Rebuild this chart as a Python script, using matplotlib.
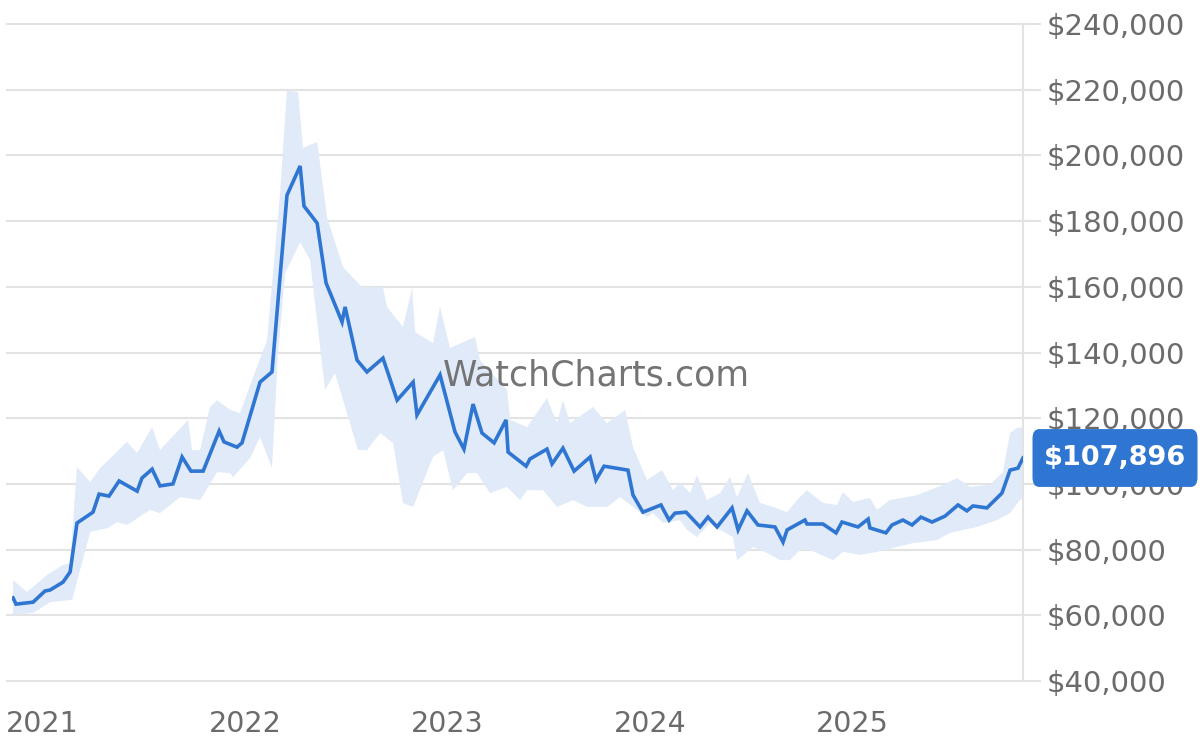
import numpy as np
from matplotlib import pyplot as plt
from matplotlib import transforms

# median price (decimal year, USD thousands)
years = [2020.854, 2020.869, 2020.953, 2021.012, 2021.037, 2021.101, 2021.136, 2021.170, 2021.249, 2021.279,
         2021.328, 2021.378, 2021.467, 2021.491, 2021.541, 2021.580, 2021.644, 2021.689, 2021.733, 2021.793,
         2021.872, 2021.896, 2021.960, 2021.985, 2022.074, 2022.133, 2022.207, 2022.272, 2022.291, 2022.356,
         2022.400, 2022.479, 2022.494, 2022.553, 2022.602, 2022.681, 2022.751, 2022.830, 2022.849, 2022.963,
         2023.037, 2023.081, 2023.126, 2023.170, 2023.230, 2023.289, 2023.299, 2023.388, 2023.407, 2023.491,
         2023.516, 2023.570, 2023.625, 2023.704, 2023.733, 2023.773, 2023.891, 2023.916, 2023.965, 2024.054,
         2024.094, 2024.123, 2024.178, 2024.247, 2024.286, 2024.331, 2024.405, 2024.435, 2024.479, 2024.533,
         2024.617, 2024.657, 2024.677, 2024.765, 2024.775, 2024.854, 2024.919, 2024.948, 2025.027, 2025.077,
         2025.086, 2025.165, 2025.195, 2025.249, 2025.294, 2025.338, 2025.393, 2025.457, 2025.521, 2025.565,
         2025.595, 2025.664, 2025.738, 2025.778, 2025.817, 2025.842]
price = [65.3, 63.4, 64.0, 67.4, 67.7, 70.1, 73.2, 88.1, 91.4, 96.9,
         96.3, 100.9, 97.8, 101.8, 104.5, 99.4, 100.0, 108.2, 103.9, 103.9,
         116.1, 112.8, 111.2, 112.5, 131.0, 134.1, 187.9, 196.8, 184.6, 179.4,
         161.2, 149.3, 153.9, 137.7, 134.1, 138.3, 125.5, 131.0, 121.0, 133.2,
         115.8, 110.6, 124.3, 115.5, 112.5, 119.5, 109.7, 105.4, 107.6, 110.6,
         106.1, 110.9, 103.9, 108.2, 101.2, 105.4, 104.2, 96.6, 91.4, 93.6,
         89.0, 91.1, 91.4, 86.9, 89.9, 86.9, 92.7, 86.0, 91.8, 87.5,
         86.9, 82.3, 86.0, 89.0, 87.8, 87.8, 85.1, 88.4, 86.9, 89.3,
         86.6, 85.1, 87.5, 89.0, 87.5, 89.9, 88.4, 90.2, 93.6, 91.8,
         93.3, 92.7, 97.2, 104.2, 104.8, 107.896]

# price range band
upper_years = [2020.854, 2020.923, 2021.022, 2021.101, 2021.136, 2021.170, 2021.235, 2021.284, 2021.417, 2021.467,
               2021.541, 2021.580, 2021.719, 2021.738, 2021.778, 2021.827, 2021.862, 2021.926, 2021.975, 2022.059,
               2022.109, 2022.173, 2022.207, 2022.262, 2022.286, 2022.356, 2022.405, 2022.484, 2022.578, 2022.681,
               2022.701, 2022.780, 2022.825, 2022.840, 2022.928, 2022.963, 2023.012, 2023.136, 2023.160, 2023.294,
               2023.309, 2023.393, 2023.491, 2023.541, 2023.570, 2023.605, 2023.719, 2023.788, 2023.877, 2023.916,
               2023.985, 2024.059, 2024.114, 2024.148, 2024.198, 2024.232, 2024.281, 2024.346, 2024.395, 2024.430,
               2024.484, 2024.543, 2024.607, 2024.677, 2024.726, 2024.775, 2024.854, 2024.923, 2024.953, 2025.002,
               2025.086, 2025.121, 2025.185, 2025.269, 2025.319, 2025.447, 2025.516, 2025.580, 2025.679, 2025.743,
               2025.778, 2025.812, 2025.842]
upper_price = [70.7, 67.1, 72.3, 75.3, 75.9, 105.1, 100.6, 104.8, 112.8, 109.4,
               117.3, 110.3, 119.5, 110.3, 110.3, 123.4, 125.5, 122.5, 121.6, 135.6,
               143.8, 188.6, 219.9, 219.3, 202.3, 204.1, 181.2, 166.0, 159.9, 159.9,
               153.9, 147.8, 159.6, 146.2, 142.9, 153.9, 141.4, 144.7, 137.7, 128.6,
               119.5, 117.3, 126.1, 118.5, 125.5, 118.5, 123.4, 118.5, 122.5, 111.2,
               101.2, 104.2, 98.1, 100.3, 97.2, 102.7, 95.1, 97.2, 102.1, 96.0,
               103.3, 94.2, 93.0, 91.4, 95.1, 98.1, 94.2, 93.6, 97.5, 94.5,
               95.7, 92.1, 95.1, 96.0, 96.6, 99.7, 101.8, 99.1, 99.7, 103.6,
               115.5, 117.0, 117.3]
lower_years = [2020.854, 2020.953, 2021.037, 2021.146, 2021.235, 2021.323, 2021.368, 2021.417, 2021.531, 2021.580,
               2021.679, 2021.778, 2021.862, 2021.926, 2021.941, 2022.025, 2022.074, 2022.133, 2022.163, 2022.198,
               2022.272, 2022.321, 2022.395, 2022.444, 2022.558, 2022.602, 2022.667, 2022.731, 2022.780, 2022.830,
               2022.928, 2022.978, 2023.027, 2023.096, 2023.146, 2023.210, 2023.294, 2023.358, 2023.393, 2023.472,
               2023.541, 2023.620, 2023.689, 2023.788, 2023.852, 2023.936, 2023.985, 2024.015, 2024.064, 2024.148,
               2024.183, 2024.232, 2024.296, 2024.346, 2024.410, 2024.430, 2024.509, 2024.578, 2024.642, 2024.691,
               2024.741, 2024.790, 2024.904, 2024.953, 2025.037, 2025.121, 2025.200, 2025.299, 2025.417, 2025.481,
               2025.546, 2025.615, 2025.714, 2025.778, 2025.827, 2025.842]
lower_price = [60.1, 60.7, 64.0, 64.7, 85.4, 86.6, 88.4, 87.5, 92.1, 91.1,
               96.0, 95.1, 103.6, 103.3, 102.1, 107.9, 114.3, 104.8, 139.8, 164.2,
               173.6, 168.2, 128.6, 133.8, 110.3, 110.3, 115.5, 112.5, 94.2, 93.0,
               108.2, 110.3, 98.1, 103.3, 103.3, 97.2, 99.1, 95.1, 98.1, 98.1,
               93.0, 95.1, 93.0, 93.0, 96.0, 92.1, 89.9, 91.1, 88.1, 89.0,
               86.0, 83.8, 88.1, 86.0, 83.8, 76.8, 80.8, 79.0, 76.8, 76.8,
               79.9, 79.9, 76.8, 79.3, 78.4, 79.3, 80.5, 82.0, 82.9, 85.1,
               86.0, 86.9, 89.0, 91.1, 95.1, 95.7]

year_ticks = [2021, 2022, 2023, 2024, 2025]
price_ticks = [40, 60, 80, 100, 120, 140, 160, 180, 200, 220, 240]
last_label = '$107,896'

blue = '#2f76d2'
band = '#e0eaf8'
grid = '#e3e3e3'
grey = '#6b6b6b'


def plot(fn='out.png'):
    fig = plt.figure(figsize=(12, 7.49), dpi=100)
    ax = fig.add_axes([0.010, 0.0908, 0.8425, 0.877])
    ax.set_xlim(2020.849, 2025.842)
    ax.set_ylim(40, 240)

    for v in price_ticks:
        ax.axhline(v, xmin=-0.005, xmax=1.017, color=grid, lw=1.5, zorder=0, clip_on=False)

    ax.fill(np.r_[upper_years, lower_years[::-1]], np.r_[upper_price, lower_price[::-1]],
            facecolor=band, edgecolor='none', zorder=1)
    ax.plot(years, price, color=blue, lw=2.6, solid_joinstyle='miter', zorder=3)

    ax.text(0.578, 0.465, 'WatchCharts.com', transform=ax.transAxes, ha='center', va='center',
            fontsize=25, color='#747474', zorder=2)

    for side in ['left', 'top', 'bottom']:
        ax.spines[side].set_visible(False)
    ax.spines['right'].set_color(grid)
    ax.spines['right'].set_linewidth(1.5)

    ax.yaxis.tick_right()
    ax.set_yticks(price_ticks)
    ax.set_yticklabels(['${:,d}'.format(v*1000) for v in price_ticks])
    ax.set_xticks(year_ticks)
    ax.set_xticklabels([str(y) for y in year_ticks])
    ax.tick_params(axis='y', length=0, pad=17, labelsize=21, labelcolor=grey)
    ax.tick_params(axis='x', length=0, pad=21, labelsize=20.5, labelcolor=grey)

    trans = transforms.blended_transform_factory(ax.transAxes, ax.transData)
    ax.text(1.091, price[-1], last_label, transform=trans, ha='center', va='center',
            fontsize=19.5, fontweight='bold', color='white', zorder=5, clip_on=False,
            bbox=dict(boxstyle='round,pad=0.42,rounding_size=0.25', mutation_aspect=1.4,
                      facecolor=blue, edgecolor='none'))

    fig.savefig(fn, dpi=100, facecolor='white')
    plt.close(fig)


if __name__ == '__main__':

    plot()
